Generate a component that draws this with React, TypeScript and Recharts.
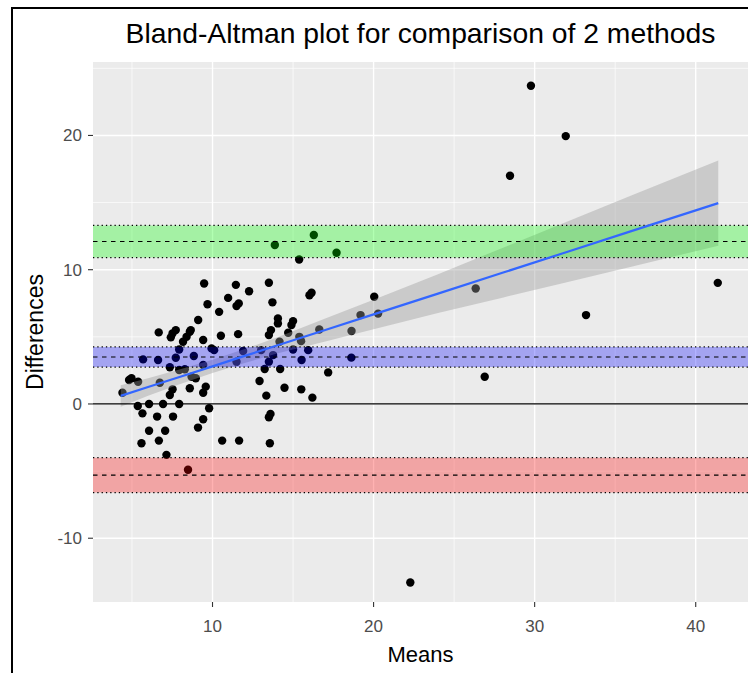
import {
  Area,
  CartesianGrid,
  ComposedChart,
  Line,
  ReferenceArea,
  ReferenceLine,
  Scatter,
  XAxis,
  YAxis,
} from 'recharts';

// scatter: mean of the two methods vs their difference
const means = [
  9.48, 11.45, 12.27, 10.97, 11.63, 11.49, 9.69, 10.41, 9.11, 6.66, 7.52, 7.72, 7.41, 8.59, 8.65,
  8.39, 8.17, 9.42, 10.52, 11.59, 7.93, 10.1, 9.94, 5.69, 6.62, 7.72, 7.35, 8.84, 9.42, 11.9,
  11.49, 4.97, 4.82, 5.38, 4.41, 6.73, 7.93, 8.28, 8.96, 8.59, 9.58, 9.42, 7.35, 7.52, 8.7,
  16.29, 13.87, 17.7, 15.38, 13.5, 13.72, 16.15, 16.02, 20.04, 14.06, 14.06, 15.0, 14.9, 13.63,
  13.5, 14.7, 19.19, 20.28, 18.63, 16.63, 15.39, 14.16, 15.5, 15.0, 15.94, 15.53, 13.76, 13.5,
  13.02, 18.62, 14.2, 13.24, 17.18, 12.92, 14.47, 15.51, 13.34, 16.2,
  29.77, 31.93, 28.47, 26.34, 33.19, 41.37, 26.9,
  5.36, 6.06, 6.93, 7.93, 5.65, 6.56, 7.55, 9.79, 9.42, 9.1, 6.06, 7.06, 6.67, 5.59, 10.6, 11.65,
  13.6, 13.5, 13.56, 7.14, 8.48, 22.28,
];
const differences = [
  8.97, 8.87, 8.4, 7.9, 7.49, 7.29, 7.43, 6.86, 6.25, 5.33, 5.26, 5.5, 4.96, 5.38, 5.5,
  5.0, 4.63, 4.76, 5.08, 5.2, 4.06, 4.01, 4.14, 3.32, 3.27, 3.44, 2.73, 3.57, 2.9, 3.94,
  3.15, 1.91, 1.78, 1.66, 0.84, 1.58, 2.53, 2.58, 1.91, 1.17, 1.29, 0.84, 0.67, 1.09, 2.03,
  12.58, 11.84, 11.26, 10.76, 9.03, 7.57, 8.28, 8.1, 7.98, 6.37, 6.0, 6.17, 5.88, 5.5,
  5.13, 5.3, 6.62, 6.73, 5.43, 5.55, 5.0, 4.63, 4.68, 4.06, 4.01, 3.27, 3.64, 3.15,
  4.01, 3.45, 2.6, 2.6, 2.35, 1.71, 1.21, 1.09, 0.62, 0.47,
  23.7, 19.95, 17.0, 8.6, 6.62, 9.02, 2.03,
  -0.15, 0, 0, 0, -0.7, -0.94, -0.94, -0.32, -1.14, -1.76, -2.0, -2.0, -2.73, -2.93, -2.73, -2.73,
  -0.74, -0.99, -2.93, -3.79, -4.9, -13.3,
];

// linear smooth with its confidence band
const smoothMeans = [4.3, 6, 8, 10, 12, 14, 17, 20, 24, 28, 32, 36, 41.4];
const smoothFit = [0.6, 1.26, 2.03, 2.8, 3.58, 4.35, 5.51, 6.67, 8.22, 9.77, 11.32, 12.87, 14.96];
const smoothLower = [-0.2, 0.61, 1.48, 2.3, 3.06, 3.75, 4.66, 5.57, 6.77, 7.92, 9.07, 10.22, 11.79];
const smoothUpper = [1.4, 1.91, 2.58, 3.3, 4.1, 4.95, 6.36, 7.77, 9.67, 11.62, 13.57, 15.52, 18.13];

// limits: upper LoA, mean bias, lower LoA (centre + CI)
const limitCentres = [12.1, 3.5, -5.3];
const limitLow = [10.9, 2.75, -6.6];
const limitHigh = [13.3, 4.25, -4.0];
const limitColours = ['#00FF00', '#0000FF', '#FF0000'];

const xDomain = [2.58, 43.37];
const yDomain = [-14.75, 25.47];
const xMajor = [10, 20, 30, 40];
const xMinor = [5, 15, 25, 35];
const yMajor = [-10, 0, 10, 20];
const yMinor = [-5, 5, 15, 25];

const FONT = '"Liberation Sans", Arial, sans-serif';

const Dot = (props: any) => <circle cx={props.cx} cy={props.cy} r={4.2} fill="#000000" />;

export default function App() {
  const points = means.map((x, i) => ({ x, y: differences[i] }));
  const smooth = smoothMeans.map((x, i) => ({
    x,
    fit: smoothFit[i],
    band: [smoothLower[i], smoothUpper[i]],
  }));

  return (
    <div
      style={{
        position: 'fixed',
        left: 0,
        top: 0,
        width: 748,
        height: 673,
        overflow: 'hidden',
        background: '#ffffff',
        fontFamily: FONT,
      }}
    >
      <div style={{ position: 'absolute', left: 0, top: 0 }}>
        <ComposedChart width={760} height={673} data={smooth} margin={{ top: 62, right: 10, bottom: 0, left: 0 }}>
          <CartesianGrid
            fill="#EBEBEB"
            stroke="#FFFFFF"
            strokeWidth={0.7}
            horizontalValues={yMinor}
            verticalValues={xMinor}
          />
          <CartesianGrid stroke="#FFFFFF" strokeWidth={1.4} horizontalValues={yMajor} verticalValues={xMajor} />
          <XAxis
            dataKey="x"
            type="number"
            domain={xDomain}
            ticks={xMajor}
            allowDataOverflow
            height={71}
            axisLine={false}
            tickLine={{ stroke: '#333333', strokeWidth: 1.1 }}
            tickSize={5}
            tickMargin={13}
            tick={{ fill: '#4D4D4D', fontSize: 17, fontFamily: FONT }}
          />
          <YAxis
            type="number"
            domain={yDomain}
            ticks={yMajor}
            allowDataOverflow
            width={93}
            axisLine={false}
            tickLine={{ stroke: '#333333', strokeWidth: 1.1 }}
            tickSize={5}
            tickMargin={6}
            tick={{ fill: '#4D4D4D', fontSize: 17, fontFamily: FONT }}
          />
          <Scatter data={points} dataKey="y" shape={Dot} isAnimationActive={false} zIndex={100} />
          <Area
            dataKey="band"
            type="linear"
            stroke="none"
            fill="#999999"
            fillOpacity={0.4}
            isAnimationActive={false}
            zIndex={200}
          />
          {limitCentres.map((c, i) => (
            <ReferenceArea
              key={`band-${i}`}
              y1={limitLow[i]}
              y2={limitHigh[i]}
              fill={limitColours[i]}
              fillOpacity={0.3}
              stroke="none"
              zIndex={300}
            />
          ))}
          {limitCentres.map((c, i) => (
            <ReferenceLine key={`c-${i}`} y={c} stroke="#000" strokeWidth={1.1} strokeDasharray="4.5 4.5" zIndex={350} />
          ))}
          {limitLow.map((v, i) => (
            <ReferenceLine key={`lo-${i}`} y={v} stroke="#000" strokeWidth={1.2} strokeDasharray="1.3 3" zIndex={350} />
          ))}
          {limitHigh.map((v, i) => (
            <ReferenceLine key={`hi-${i}`} y={v} stroke="#000" strokeWidth={1.2} strokeDasharray="1.3 3" zIndex={350} />
          ))}
          <ReferenceLine y={0} stroke="#000" strokeWidth={1.2} zIndex={350} />
          <Line
            dataKey="fit"
            type="linear"
            stroke="#3366FF"
            strokeWidth={2.2}
            dot={false}
            isAnimationActive={false}
            zIndex={400}
          />
        </ComposedChart>
      </div>

      <div
        style={{
          position: 'absolute',
          left: 93,
          width: 655,
          top: 19,
          lineHeight: '28px',
          fontSize: 28.3,
          textAlign: 'center',
          color: '#000',
          whiteSpace: 'nowrap',
        }}
      >
        Bland-Altman plot for comparison of 2 methods
      </div>
      <div
        style={{
          position: 'absolute',
          left: 93,
          width: 655,
          top: 644,
          lineHeight: '22px',
          fontSize: 22,
          textAlign: 'center',
          color: '#000',
        }}
      >
        Means
      </div>
      <div
        style={{
          position: 'absolute',
          left: 35 - 100,
          top: 332 - 11,
          width: 200,
          lineHeight: '22px',
          fontSize: 23,
          textAlign: 'center',
          color: '#000',
          transform: 'rotate(-90deg)',
          transformOrigin: '50% 50%',
        }}
      >
        Differences
      </div>
      <div
        style={{
          position: 'absolute',
          left: 11,
          top: 7,
          width: 800,
          height: 700,
          borderTop: '2px solid #000',
          borderLeft: '2px solid #000',
          boxSizing: 'border-box',
        }}
      />
    </div>
  );
}
